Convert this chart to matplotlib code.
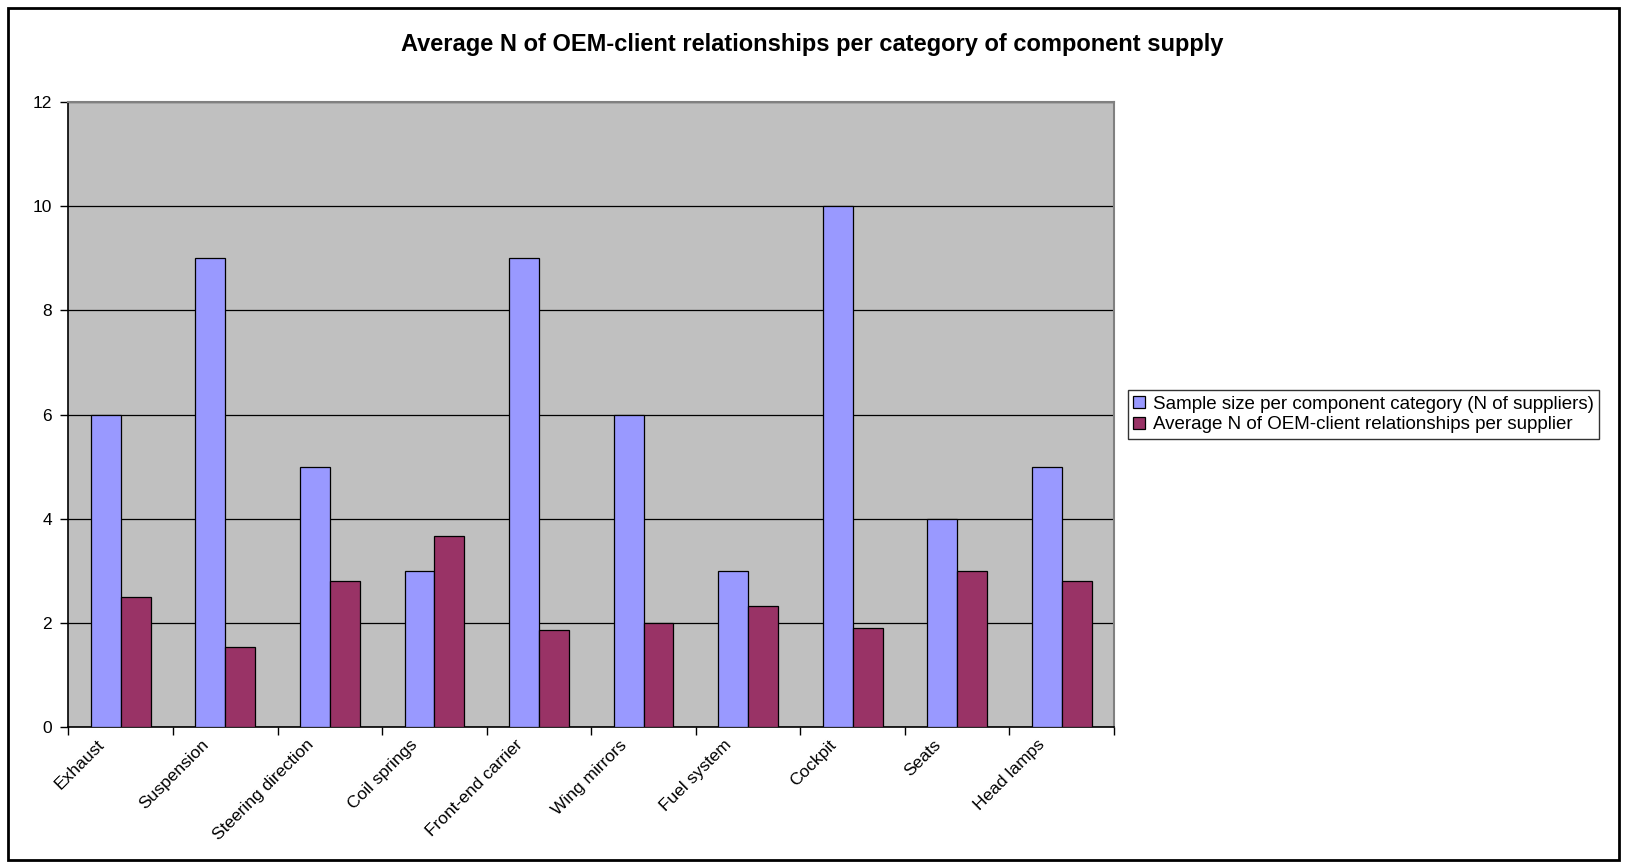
import matplotlib

matplotlib.use("Agg")
import matplotlib.pyplot as plt
import matplotlib.transforms as mtransforms
import numpy as np
from matplotlib.patches import Rectangle

plt.rcParams["font.family"] = ["Liberation Sans", "DejaVu Sans"]

categories = ["Exhaust", "Suspension", "Steering direction", "Coil springs",
              "Front-end carrier", "Wing mirrors", "Fuel system", "Cockpit",
              "Seats", "Head lamps"]
sample_size = [6, 9, 5, 3, 9, 6, 3, 10, 4, 5]
avg_relations = [2.5, 1.55, 2.8, 3.67, 1.87, 2.0, 2.33, 1.9, 3.0, 2.8]
yticks = [0, 2, 4, 6, 8, 10, 12]

BLUE = "#9999FF"
PLUM = "#993366"

fig = plt.figure(figsize=(16.27, 8.65), dpi=100)
ax = fig.add_axes([0.0421, 0.159, 0.6426, 0.7234])
ax.set_facecolor("#C0C0C0")

x = np.arange(len(categories))
w = 1 / 3.5
ax.bar(x - w / 2, sample_size, w, color=BLUE, edgecolor="black", linewidth=0.9,
       label="Sample size per component category (N of suppliers)", zorder=3)
ax.bar(x + w / 2, avg_relations, w, color=PLUM, edgecolor="black", linewidth=0.9,
       label="Average N of OEM-client relationships per supplier", zorder=3)

ax.set_xlim(-0.5, len(categories) - 0.5)
ax.set_ylim(0, 12)
ax.set_yticks(yticks)
ax.set_yticklabels([str(v) for v in yticks], fontsize=12.5)
ax.yaxis.grid(True, color="black", linewidth=0.9, zorder=1)
ax.set_axisbelow(True)

# ticks sit between categories; labels are drawn as text below each group
ax.set_xticks(np.arange(len(categories) + 1) - 0.5)
ax.set_xticklabels([])
ax.tick_params(axis="x", direction="out", length=6, width=1)
ax.tick_params(axis="y", direction="out", length=6, width=1, pad=6)

shift = mtransforms.ScaledTranslation(-0.19, -0.15, fig.dpi_scale_trans)
for xi, cat in zip(x, categories):
    ax.text(xi, 0, cat, transform=ax.get_xaxis_transform() + shift,
            rotation=45, ha="right", va="center", rotation_mode="anchor",
            fontsize=12.5)

for side in ("top", "right"):
    ax.spines[side].set_color("#808080")
    ax.spines[side].set_linewidth(1.5)
for side in ("left", "bottom"):
    ax.spines[side].set_color("black")
    ax.spines[side].set_linewidth(1.2)

fig.text(0.499, 0.949, "Average N of OEM-client relationships per category of component supply",
         ha="center", va="center", fontsize=17, fontweight="bold")

leg = ax.legend(loc="center left", bbox_to_anchor=(1.013, 0.5), fontsize=13.5,
                frameon=True, fancybox=False, edgecolor="black", handlelength=0.65,
                handleheight=0.65, handletextpad=0.4, borderpad=0.3, labelspacing=0.2,
                borderaxespad=0)
leg.get_frame().set_linewidth(1.0)

fig.patches.append(Rectangle((0.005, 0.006), 0.99, 0.985, transform=fig.transFigure,
                             fill=False, edgecolor="black", linewidth=2))

fig.savefig("out.png", dpi=100)
